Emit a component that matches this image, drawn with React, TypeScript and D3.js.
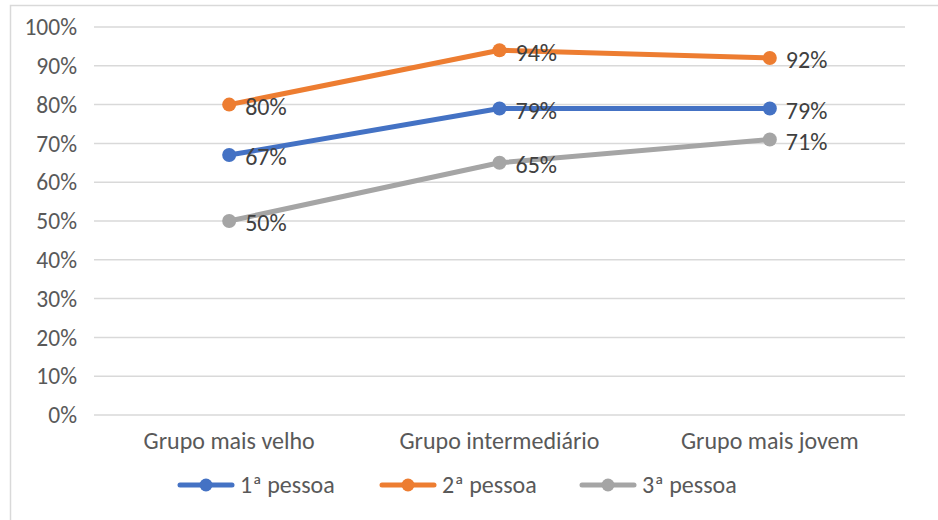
import React from "react";
import * as d3 from "d3";

const categories = ["Grupo mais velho", "Grupo intermediário", "Grupo mais jovem"];
const seriesNames = ["1ª pessoa", "2ª pessoa", "3ª pessoa"];
const primeira = [67, 79, 79];
const segunda = [80, 94, 92];
const terceira = [50, 65, 71];
const yTicks = [0, 10, 20, 30, 40, 50, 60, 70, 80, 90, 100];
const colors = ["#4472C4", "#ED7D31", "#A5A5A5"];

const W = 938;
const H = 520;
const FONT = "Carlito, Calibri, 'Noto Sans', sans-serif";

export default function App() {
  const series = [primeira, segunda, terceira];
  const x = d3.scaleBand<string>().domain(categories).range([94, 905]);
  const y = d3.scaleLinear().domain([0, 100]).range([415, 27]);
  const line = d3
    .line<number>()
    .x((_, i) => (x(categories[i]) as number) + x.bandwidth() / 2)
    .y((d) => y(d));
  const legendX = [180, 382, 582];

  return (
    <svg
      width={W}
      height={H}
      style={{ position: "absolute", left: 0, top: 0, fontFamily: FONT }}
    >
      <rect x={0} y={0} width={W} height={H} fill="#fff" />
      <rect x={10.5} y={5.5} width={W} height={H} fill="none" stroke="#D9D9D9" strokeWidth={1.5} />
      {yTicks.map((t) => (
        <g key={t}>
          <line x1={94} x2={905} y1={y(t)} y2={y(t)} stroke="#D9D9D9" strokeWidth={1.5} />
          <text x={77} y={y(t)} dy="0.35em" textAnchor="end" fontSize={23.5} fill="#595959">
            {t}%
          </text>
        </g>
      ))}
      {categories.map((c) => (
        <text
          key={c}
          x={(x(c) as number) + x.bandwidth() / 2}
          y={441}
          dy="0.35em"
          textAnchor="middle"
          fontSize={24}
          fill="#595959"
        >
          {c}
        </text>
      ))}
      {series.map((s, si) => (
        <g key={si}>
          <path d={line(s) || ""} fill="none" stroke={colors[si]} strokeWidth={5} strokeLinejoin="round" strokeLinecap="round" />
          {s.map((v, i) => {
            const cx = (x(categories[i]) as number) + x.bandwidth() / 2;
            return (
              <g key={i}>
                <circle cx={cx} cy={y(v)} r={7} fill={colors[si]} />
                <text x={cx + 16} y={y(v) + 2} dy="0.35em" fontSize={24} fill="#404040">
                  {v}%
                </text>
              </g>
            );
          })}
        </g>
      ))}
      {seriesNames.map((n, i) => (
        <g key={n}>
          <line x1={legendX[i]} x2={legendX[i] + 52} y1={485} y2={485} stroke={colors[i]} strokeWidth={5} strokeLinecap="round" />
          <circle cx={legendX[i] + 26} cy={485} r={6.5} fill={colors[i]} />
          <text x={legendX[i] + 60} y={485} dy="0.35em" fontSize={24} fill="#595959">
            {n}
          </text>
        </g>
      ))}
    </svg>
  );
}
